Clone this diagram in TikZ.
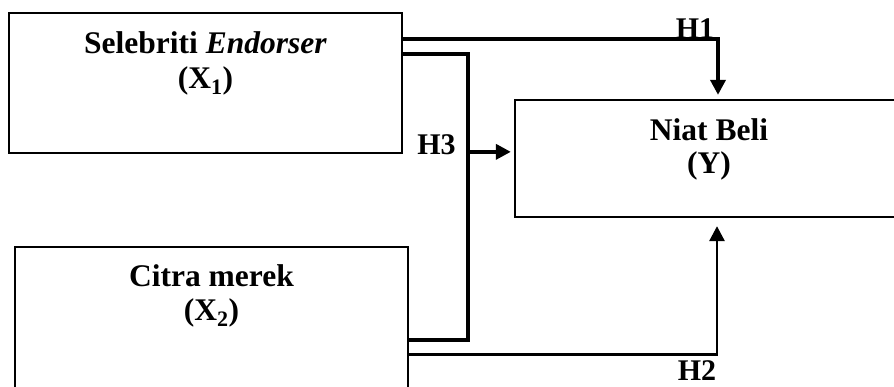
\documentclass[tikz,border=0pt]{standalone}
\usepackage{fontspec}
\setmainfont{Liberation Serif}
\usetikzlibrary{arrows.meta,calc}

\begin{document}
\begin{tikzpicture}[x=1pt,y=-1pt,
  varbox/.style={draw,line width=2.3pt,minimum width=393pt,inner sep=0pt},
  boxtext/.style={anchor=base,inner sep=0pt,font=\fontsize{31.5}{34}\selectfont\bfseries},
  hyp/.style={anchor=base,inner sep=0pt,font=\fontsize{30}{32}\selectfont\bfseries},
  heavy/.style={line width=3.6pt},
  light/.style={line width=2.8pt},
  tip/.style={-{Triangle[length=15pt,width=15pt]}}]
\useasboundingbox (0,0) rectangle (894,387);

% the three variables
\begin{scope}
\clip (0,0) rectangle (894,387);
\node[varbox,minimum height=140pt] (x1) at (205.5,83) {};
\node[varbox,minimum width=388pt,minimum height=117pt] (y) at (709,158.5) {};
\node[varbox,minimum height=145pt] (x2) at (211.5,319.5) {};
\end{scope}

\node[boxtext] (x1a) at ([yshift=-42pt]x1.north) {Selebriti \textit{Endorser}};
\node[boxtext] (x1b) at ([yshift=-77pt]x1.north) {(X\textsubscript{1})};
\node[boxtext] (ya) at ([yshift=-42pt]y.north) {Niat Beli};
\node[boxtext] (yb) at ([yshift=-75pt]y.north) {(Y)};
\node[boxtext] (x2a) at ([yshift=-41pt]x2.north) {Citra merek};
\node[boxtext] (x2b) at ([yshift=-75pt]x2.north) {(X\textsubscript{2})};

% connection points
\coordinate (trunk) at (468,0);
\coordinate (h1s) at ([yshift=-27pt]x1.north east);
\coordinate (h1e) at ([xshift=9pt,yshift=4pt]y.north);
\coordinate (h3a) at ([yshift=-42pt]x1.north east);
\coordinate (h3b) at ([yshift=-94pt]x2.north east);
\coordinate (h3e) at ([xshift=-3pt,yshift=-53pt]y.north west);
\coordinate (h2s) at ([yshift=-109pt]x2.north east);
\coordinate (h2e) at ([xshift=8pt,yshift=-8pt]y.south);

% H1
\draw[heavy,tip] (h1s) -| (h1e);
% H3: both predictors joined, then into Y
\draw[heavy] (h3a) -| (trunk |- h3b) -- (h3b);
\draw[heavy,tip] (trunk |- h3e) -- (h3e);
% H2
\draw[light,tip] (h2s) -| (h2e);

% hypothesis labels
\node[hyp] (lh1) at (695,39) {H1};
\node[hyp] (lh3) at (436.5,155) {H3};
\node[hyp] (lh2) at (697,380) {H2};
\end{tikzpicture}
\end{document}
